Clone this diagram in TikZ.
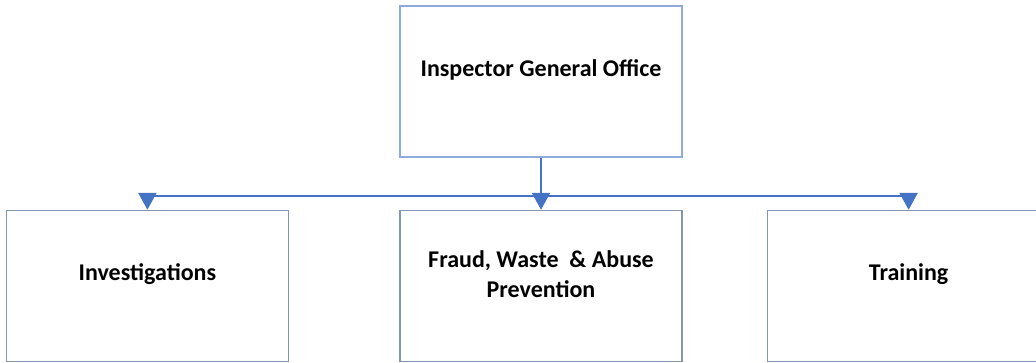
\documentclass[tikz,border=0pt]{standalone}
\usepackage{fontspec}
\setmainfont{Carlito}
\usetikzlibrary{arrows.meta, positioning}

\definecolor{topline}{HTML}{8FAADC}
\definecolor{boxline}{HTML}{8497B0}
\definecolor{linkblue}{HTML}{4472C4}

\begin{document}
\begin{tikzpicture}[
  x=1pt, y=-1pt,
  unit/.style={rectangle, draw=boxline, line width=1.6pt,
               minimum width=282pt, minimum height=151pt,
               label={[font=\fontsize{24}{30}\selectfont\bfseries, align=center,
                       yshift=12pt]center:#1}},
  link/.style={draw=linkblue, line width=2.2pt},
  arr/.style={link, -{Triangle[length=17pt, width=18pt]}},
  node distance=52pt and 110pt
]
  \useasboundingbox (0,0) rectangle (1036,362);
  \clip (0,0) rectangle (1036,362);

  % Head office (top)
  \node[unit={Inspector General Office}, draw=topline] at (541,81.5) (igo) {};

  % Divisions (bottom row)
  \node[unit={Fraud, Waste\ \ \& Abuse\\Prevention}, below=52pt of igo] (fwa) {};
  \node[unit={Investigations}, left=110pt of fwa]  (inv) {};
  \node[unit={Training}, right=84pt of fwa]        (trn) {};

  % Connectors
  \coordinate[above=14pt of fwa.north] (hub);
  \draw[link] (inv.north |- hub) -- (trn.north |- hub);
  \draw[arr] (igo.south) -- (fwa.north);
  \draw[arr] (inv.north |- hub) -- (inv.north);
  \draw[arr] (trn.north |- hub) -- (trn.north);
\end{tikzpicture}
\end{document}
